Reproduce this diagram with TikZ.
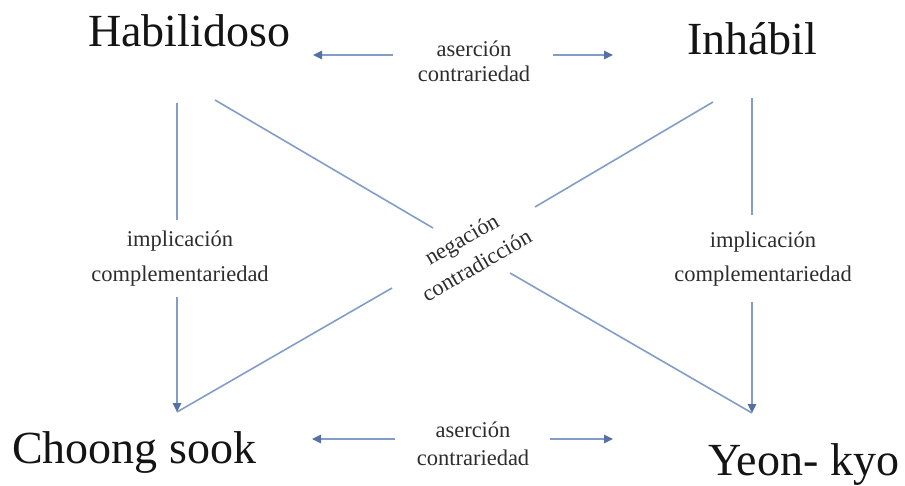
\documentclass[tikz,border=0pt]{standalone}
\usepackage{fontspec}
\setmainfont{Liberation Serif}
\usetikzlibrary{arrows.meta}
\definecolor{ln}{RGB}{130,157,200}
\definecolor{tipc}{RGB}{85,112,162}
\definecolor{txt}{RGB}{45,45,45}
\begin{document}
\begin{tikzpicture}[x=1pt,y=-1pt,
  big/.style={font=\fontsize{46}{50}\selectfont, text=black!92, inner sep=0pt, anchor=base west},
  small/.style={font=\fontsize{22.5}{26}\selectfont, text=txt, inner sep=0pt, anchor=base},
  conn/.style={draw=ln, line width=1.6pt},
  arr/.style={conn, -{Triangle[length=9pt,width=8.5pt,color=tipc]}}]
\useasboundingbox (0,0) rectangle (905,486);
% main terms
\node[big] (hab) at (88,47) {Habilidoso};
\node[big] (inh) at (687,55) {Inhábil};
\node[big] (cho) at (12,463) {Choong sook};
\node[big] (yeo) at (708,475) {Yeon- kyo};
% relation labels
\node[small] (ta) at (474,57) {aserción};
\node[small] (tc) at (474,82) {contrariedad};
\node[small] (ba) at (473,437) {aserción};
\node[small] (bc) at (473,465) {contrariedad};
\node[small] (li) at (180,247) {implicación};
\node[small] (lc) at (180,282) {complementariedad};
\node[small] (ri) at (763,248) {implicación};
\node[small] (rc) at (763,282) {complementariedad};
\node[font=\fontsize{22.5}{30}\selectfont, text=txt, inner sep=0pt, align=center, rotate=30] (neg) at (469,252) {negación\\contradicción};
% endpoints
\coordinate (tl1) at (393,55);  \coordinate (tl2) at (313,55);
\coordinate (tr1) at (553,55);  \coordinate (tr2) at (613,55);
\coordinate (bl1) at (395,439); \coordinate (bl2) at (312,439);
\coordinate (br1) at (550,439); \coordinate (br2) at (613,439);
\coordinate (lvt) at (177,103); \coordinate (lvg1) at (177,220);
\coordinate (lvg2) at (177,297); \coordinate (lvb) at (177,412);
\coordinate (rvt) at (752,98);  \coordinate (rvg1) at (752,215);
\coordinate (rvg2) at (752,302); \coordinate (rvb) at (752,413);
\coordinate (dat) at (215,100); \coordinate (dag1) at (433,228); \coordinate (dag2) at (510,273);
\coordinate (dbt) at (713,102); \coordinate (dbg1) at (535,207); \coordinate (dbg2) at (392,288);
% connectors
\draw[arr] (tl1) -- (tl2);
\draw[arr] (tr1) -- (tr2);
\draw[arr] (bl1) -- (bl2);
\draw[arr] (br1) -- (br2);
\draw[conn] (lvt) -- (lvg1);
\draw[arr] (lvg2) -- (lvb);
\draw[conn] (rvt) -- (rvg1);
\draw[arr] (rvg2) -- (rvb);
\draw[conn] (dat) -- (dag1);
\draw[conn] (dag2) -- (rvb);
\draw[conn] (dbt) -- (dbg1);
\draw[conn] (dbg2) -- (lvb);
\end{tikzpicture}
\end{document}
